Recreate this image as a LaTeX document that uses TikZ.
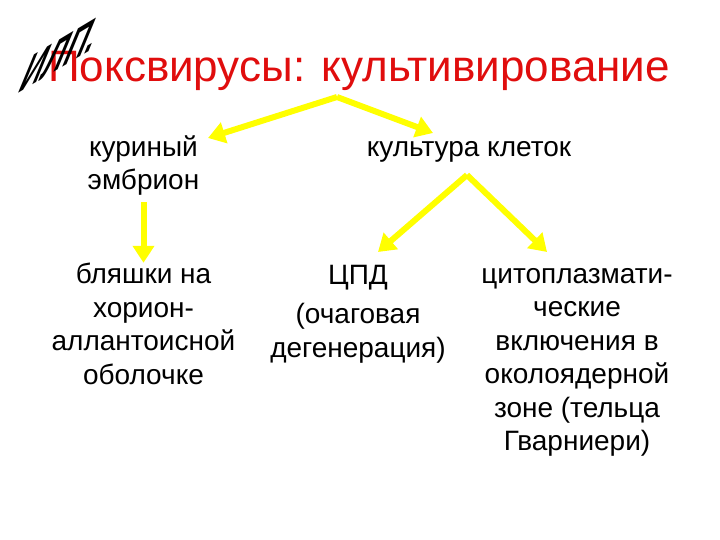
\documentclass[tikz,border=0pt]{standalone}
\usepackage{fontspec}
\setmainfont{Liberation Sans}
\usetikzlibrary{arrows.meta}
\definecolor{ffffqq}{rgb}{1,1,0}
\definecolor{eeqqqq}{rgb}{0.88,0.05,0.05}

\begin{document}
\begin{tikzpicture}[x=1pt,y=-1pt,
  txt/.style={align=center,inner sep=0pt,anchor=base,font=\fontsize{28}{33.5}\selectfont},
  arr/.style={color=ffffqq,line width=6pt,-{Triangle[length=17pt,width=21pt]}}]
\useasboundingbox (0,0) rectangle (720,540);
\node[anchor=base,inner sep=0pt,color=eeqqqq,font=\fontsize{44}{50}\selectfont] (title) at (359,82) {Поксвирусы: культивирование};
\node[anchor=base west,inner sep=0pt,font=\fontsize{36}{40}\selectfont\bfseries,transform shape,rotate=31,xslant=1.35] (ilp) at (16,95) {ИЛП.};

% base = baseline of the last line
\node[txt] (embryo) at (143.5,190) {куриный\\эмбрион};
\node[txt] (culture) at (469,157) {культура клеток};
\node[txt] (plaques) at (143.5,384) {бляшки на\\хорион-\\аллантоисной\\оболочке};
\node[txt] (cpe) at (358,357) {ЦПД\\[6pt](очаговая\\дегенерация)};
\node[txt] (incl) at (577,450.5) {цитоплазмати-\\ческие\\включения в\\околоядерной\\зоне (тельца\\Гварниери)};

\coordinate (fork1) at (337,97);
\coordinate (fork2) at (467,175);
\coordinate (tipA) at (208,138);
\coordinate (tipB) at (433,133);
\coordinate (tipC) at (378,252);
\coordinate (tipD) at (547,252);
\draw[arr] (fork1) -- (tipA);
\draw[arr] (fork1) -- (tipB);
\draw[arr,shorten <=6pt] (embryo.south) -- (plaques.north);
\draw[arr] (fork2) -- (tipC);
\draw[arr] (fork2) -- (tipD);
\end{tikzpicture}
\end{document}
